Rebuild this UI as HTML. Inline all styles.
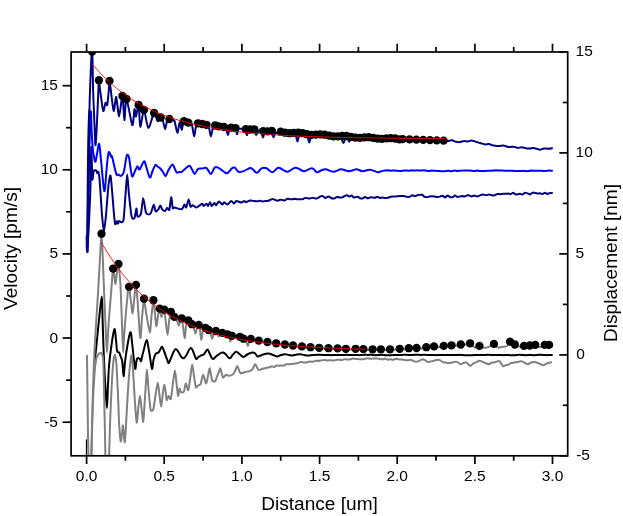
<!DOCTYPE html>
<html><head><meta charset="utf-8"><title>Velocity and displacement vs distance</title>
<style>
html,body{margin:0;padding:0;background:#fff;}
body{width:623px;height:516px;overflow:hidden;font-family:"Liberation Sans",sans-serif;}
svg{display:block;will-change:transform;}
</style></head><body>
<svg width="623" height="516" viewBox="0 0 623 516">
<rect width="623" height="516" fill="#fff"/>
<defs><clipPath id="c"><rect x="71.1" y="52.0" width="496.6" height="403.8"/></clipPath></defs>
<g clip-path="url(#c)" fill="none" stroke-linejoin="round" stroke-linecap="round">
<path d="M94.6 362.0C94.9 359.1 95.8 352.1 96.5 345.0C97.2 337.9 98.1 328.2 99.0 320.0C99.9 311.8 101.2 296.5 101.8 296.5C102.4 296.5 102.3 311.8 102.6 320.0C102.9 328.2 103.1 337.9 103.4 345.0C103.7 352.1 103.8 355.2 104.1 362.0C104.4 368.8 104.8 377.2 105.3 385.0C105.8 392.8 106.4 408.1 106.9 408.1C107.4 408.1 107.6 392.3 108.0 385.0C108.4 377.7 108.5 371.8 109.1 365.0C109.7 358.2 110.6 351.1 111.5 345.0C112.4 338.9 113.6 330.1 114.4 329.2C115.2 328.3 115.5 336.3 116.0 340.0C116.5 343.7 116.6 348.9 117.1 351.0C117.6 353.1 118.6 351.6 119.2 352.5C119.8 353.4 120.0 354.5 120.5 356.0C121.0 357.5 121.7 357.8 122.2 361.2C122.7 364.6 123.1 376.1 123.6 376.2C124.1 376.3 124.3 367.3 125.0 362.0C125.7 356.7 126.6 350.1 127.5 345.0C128.4 339.9 129.6 332.7 130.4 332.2C131.2 331.7 131.5 338.0 132.0 342.0C132.5 346.0 133.0 351.4 133.5 356.0C134.0 360.6 134.7 367.9 135.2 368.9C135.7 369.9 135.9 363.8 136.3 362.0C136.7 360.2 136.8 358.9 137.4 358.3C138.0 357.7 139.0 358.2 139.6 358.7C140.2 359.2 140.6 361.5 141.0 361.2C141.4 360.9 141.5 359.1 142.0 357.0C142.5 354.9 143.2 351.9 144.0 349.0C144.8 346.1 145.8 340.3 146.6 340.1C147.4 339.9 147.9 345.1 148.5 348.0C149.1 350.9 149.4 353.4 150.0 357.0C150.6 360.6 151.4 368.4 152.0 368.9C152.6 369.4 152.9 362.5 153.5 360.0C154.1 357.5 154.8 355.3 155.6 354.0C156.4 352.7 157.7 353.4 158.5 352.5C159.3 351.6 159.9 350.0 160.5 349.0C161.1 348.0 161.5 346.4 162.1 346.7C162.7 347.0 163.1 348.8 164.0 351.0C164.9 353.2 166.4 357.7 167.2 359.8C168.0 361.9 168.1 363.4 168.7 363.1C169.3 362.8 170.2 359.9 171.0 358.0C171.8 356.1 172.7 353.5 173.5 352.0C174.3 350.5 175.1 348.9 175.9 348.9C176.8 348.9 177.6 350.7 178.5 352.0C179.4 353.3 180.1 355.4 181.0 356.5C181.9 357.6 183.0 358.6 183.9 358.3C184.8 358.0 185.6 356.4 186.5 355.0C187.4 353.6 188.2 351.2 189.0 350.0C189.8 348.8 190.5 347.9 191.2 348.1C191.9 348.3 192.4 349.7 193.0 351.0C193.6 352.3 194.2 354.6 194.8 356.0C195.4 357.4 195.7 358.8 196.3 359.0C196.9 359.2 197.7 357.6 198.5 357.0C199.3 356.4 200.3 355.9 201.3 355.4C202.3 354.9 203.2 355.0 204.2 354.0C205.2 353.0 206.4 349.9 207.2 349.6C208.0 349.3 208.4 350.8 209.0 352.0C209.6 353.2 210.3 355.3 211.0 356.5C211.7 357.7 212.2 359.0 213.0 359.0C213.8 359.0 214.8 357.4 216.0 356.5C217.2 355.6 218.8 354.2 220.0 353.5C221.2 352.8 222.1 352.3 223.1 352.5C224.1 352.7 224.9 353.5 226.0 354.5C227.1 355.5 228.5 358.3 229.7 358.3C230.9 358.3 231.9 355.6 233.0 354.5C234.1 353.4 235.0 351.8 236.2 351.8C237.4 351.8 238.8 353.6 240.0 354.5C241.2 355.4 242.1 357.0 243.5 356.9C244.9 356.8 246.5 354.7 248.0 354.0C249.5 353.3 251.0 352.6 252.2 352.5C253.4 352.4 254.0 352.5 255.0 353.2C256.0 353.9 256.4 356.3 257.8 356.5C259.2 356.7 261.2 355.0 263.0 354.5C264.8 354.0 266.7 353.5 268.4 353.6C270.1 353.7 271.5 354.5 273.0 355.0C274.5 355.5 275.7 356.5 277.1 356.5C278.5 356.5 279.7 355.4 281.0 355.0C282.3 354.6 283.5 354.2 284.9 354.2C286.3 354.2 287.7 354.8 289.0 355.0C290.3 355.2 291.3 355.6 292.6 355.5C293.9 355.4 295.2 354.8 296.5 354.6C297.8 354.4 299.1 354.1 300.4 354.2C301.7 354.3 302.7 354.8 304.0 355.0C305.3 355.2 306.6 355.5 308.1 355.5C309.6 355.5 311.4 355.2 313.1 355.1C314.7 355.0 316.4 354.8 318.0 354.8C319.6 354.8 321.1 354.9 322.8 354.9C324.4 355.0 326.1 355.0 327.5 355.0C328.9 355.0 330.0 355.2 331.2 355.2C332.5 355.2 333.7 355.0 335.0 355.0C336.3 354.9 337.5 355.0 338.8 355.0C340.0 355.0 341.2 355.1 342.5 355.0C343.8 355.0 345.0 354.8 346.2 354.8C347.5 354.8 348.8 355.0 350.0 355.0C351.2 355.0 352.4 355.0 353.6 355.0C354.8 355.0 355.9 355.0 357.1 355.1C358.4 355.1 359.5 355.2 360.7 355.1C361.9 355.1 363.1 354.8 364.3 354.8C365.5 354.8 366.6 354.9 367.9 354.9C369.1 354.9 370.2 354.8 371.4 354.8C372.6 354.8 373.8 355.1 375.0 355.2C376.2 355.2 377.4 355.2 378.6 355.1C379.8 355.0 380.9 354.7 382.1 354.8C383.4 354.8 384.5 355.2 385.7 355.2C386.9 355.3 388.1 355.3 389.3 355.2C390.5 355.2 391.6 355.1 392.9 355.1C394.1 355.0 395.2 355.1 396.4 355.1C397.6 355.0 398.8 355.0 400.0 355.0C401.2 355.0 402.4 354.9 403.6 354.8C404.8 354.8 405.9 354.7 407.1 354.8C408.4 354.8 409.5 355.0 410.7 355.0C411.9 355.0 413.1 354.8 414.3 354.8C415.5 354.8 416.6 354.8 417.9 354.8C419.1 354.9 420.2 354.9 421.4 354.9C422.6 354.9 423.8 354.7 425.0 354.8C426.2 354.8 427.4 354.9 428.6 355.0C429.8 355.0 430.9 354.9 432.1 355.0C433.4 355.0 434.5 355.2 435.7 355.2C436.9 355.2 438.1 355.0 439.3 355.0C440.5 355.0 441.6 355.1 442.9 355.1C444.1 355.1 445.2 355.0 446.4 355.0C447.6 355.0 448.8 355.0 450.0 355.0C451.2 355.0 452.4 355.1 453.6 355.1C454.8 355.1 455.9 355.0 457.1 355.0C458.4 354.9 459.5 354.8 460.7 354.9C461.9 354.9 463.1 355.2 464.3 355.2C465.5 355.3 466.6 355.3 467.9 355.2C469.1 355.2 470.2 355.2 471.4 355.2C472.6 355.1 473.8 355.1 475.0 355.1C476.2 355.1 477.4 354.9 478.6 354.9C479.8 354.9 480.9 354.9 482.1 354.9C483.4 354.9 484.5 354.9 485.7 354.9C486.9 354.9 488.1 354.7 489.3 354.8C490.5 354.8 491.6 355.1 492.9 355.1C494.1 355.2 495.2 355.0 496.4 355.0C497.6 354.9 498.8 355.0 500.0 355.0C501.2 355.0 502.5 355.2 503.7 355.2C505.0 355.2 506.2 354.9 507.4 354.9C508.7 355.0 509.9 355.2 511.1 355.2C512.4 355.3 513.6 355.3 514.9 355.2C516.1 355.1 517.3 354.8 518.6 354.8C519.8 354.7 521.0 354.8 522.3 354.9C523.5 354.9 524.7 355.2 526.0 355.2C527.3 355.2 528.5 355.0 529.7 355.0C531.0 355.0 532.2 355.2 533.4 355.2C534.7 355.2 535.9 355.0 537.1 354.9C538.4 354.9 539.6 354.8 540.9 354.8C542.1 354.8 543.3 355.0 544.6 355.1C545.8 355.1 547.0 355.2 548.3 355.1C549.5 355.1 551.4 355.0 552.0 355.0" stroke="#000" stroke-width="2.0"/>
<path d="M86.5 440.0L86.5 457.0" stroke="#000" stroke-width="1.3"/>
<path d="M90.8 470.0C91.0 464.1 91.6 438.6 92.0 425.0C92.4 411.4 93.3 378.0 93.8 365.0C94.3 352.0 95.4 334.8 96.0 325.0C96.6 315.2 97.7 298.7 98.2 290.0C98.7 281.3 99.6 265.3 100.0 258.0C100.4 250.7 101.1 233.7 101.5 233.7C101.9 233.7 102.5 250.7 102.8 258.0C103.1 265.3 103.6 281.3 104.0 290.0C104.4 298.7 105.1 316.9 105.5 325.0C105.9 333.1 106.5 352.5 106.9 352.5C107.3 352.5 107.9 333.1 108.5 325.0C109.1 316.9 110.7 297.3 111.3 290.0C111.9 282.7 112.7 270.3 113.1 268.6C113.5 266.9 114.2 275.0 114.5 277.0C114.8 279.0 115.3 284.5 115.6 283.9C115.9 283.2 116.6 274.6 117.0 272.0C117.4 269.4 118.1 263.2 118.5 264.0C118.9 264.8 119.7 274.6 120.0 278.0C120.3 281.4 120.4 283.2 120.7 290.0C121.0 296.8 121.9 321.9 122.2 330.0C122.5 338.1 122.9 352.5 123.2 352.5C123.5 352.5 123.9 338.1 124.5 330.0C125.1 321.9 127.4 295.6 128.0 290.0C128.6 284.4 128.8 285.8 129.1 286.8C129.4 287.8 130.0 294.6 130.5 298.0C131.0 301.4 132.1 313.6 132.6 313.3C133.1 313.0 134.1 299.7 134.5 296.0C134.9 292.3 135.6 284.5 136.0 285.0C136.4 285.5 136.9 293.1 137.5 300.0C138.1 306.9 139.7 335.7 140.3 338.0C140.9 340.3 141.5 323.0 142.0 318.0C142.5 313.0 143.5 300.2 144.0 299.4C144.5 298.6 145.2 307.7 146.0 312.0C146.8 316.3 149.1 331.7 149.8 332.2C150.5 332.7 151.0 320.1 151.5 316.0C152.0 311.9 152.9 301.2 153.4 300.9C153.9 300.6 154.6 310.7 155.0 314.0C155.4 317.3 155.9 326.0 156.3 326.3C156.7 326.6 157.6 318.3 158.0 316.0C158.4 313.7 159.3 308.8 159.7 308.9C160.1 309.0 161.0 316.5 161.4 316.9C161.8 317.3 162.6 312.9 163.0 312.0C163.4 311.1 163.9 309.0 164.3 310.3C164.7 311.6 165.4 318.8 165.8 322.0C166.2 325.2 167.2 335.1 167.6 335.1C168.0 335.1 168.6 325.0 169.0 322.0C169.4 319.0 170.3 312.8 170.8 312.0C171.3 311.2 172.5 315.4 173.0 316.0C173.5 316.6 173.9 316.6 174.4 317.0C174.9 317.4 175.9 317.9 176.5 319.0C177.1 320.1 178.3 325.6 178.8 325.6C179.3 325.6 180.1 319.9 180.5 319.0C180.9 318.1 181.4 317.6 181.7 318.5C182.0 319.4 182.6 323.5 183.0 326.0C183.4 328.5 184.2 337.9 184.6 338.0C185.0 338.1 185.7 329.2 186.0 327.0C186.3 324.8 186.7 321.8 187.0 321.0C187.3 320.2 187.8 320.4 188.3 320.7C188.8 321.0 190.0 322.5 190.5 323.0C191.0 323.5 191.5 323.9 191.9 324.4C192.3 324.9 193.0 325.8 193.5 327.0C194.0 328.2 195.0 333.7 195.5 333.6C196.0 333.5 197.1 327.1 197.5 326.0C197.9 324.9 198.4 324.7 198.7 325.2C199.0 325.7 199.7 328.1 200.0 330.0C200.3 331.9 200.9 340.1 201.3 340.1C201.7 340.1 202.5 331.6 203.0 330.0C203.5 328.4 204.7 328.0 205.4 328.0C206.1 328.0 207.9 329.6 208.6 330.2C209.3 330.8 210.0 331.9 210.5 333.0C211.0 334.1 211.7 338.8 212.2 338.7C212.7 338.6 213.5 333.5 214.0 332.5C214.5 331.5 215.4 331.2 215.9 331.3C216.4 331.4 217.1 332.3 217.5 333.0C217.9 333.7 218.4 336.4 218.8 336.5C219.2 336.6 220.0 333.9 220.5 333.5C221.0 333.1 221.5 333.1 222.4 333.2C223.3 333.3 226.6 334.2 227.5 334.6C228.4 335.0 228.6 335.6 229.0 336.5C229.4 337.4 230.0 341.6 230.4 341.6C230.8 341.6 230.7 336.8 231.9 336.2C233.1 335.6 238.4 336.8 239.9 337.2C241.4 337.6 242.7 338.6 243.5 339.0C244.3 339.4 245.4 339.6 246.0 340.5C246.6 341.4 247.3 346.0 247.8 346.0C248.3 346.0 249.1 341.4 249.5 340.5C249.9 339.6 250.1 339.2 250.8 339.2C251.5 339.2 254.0 340.2 255.0 340.5C256.0 340.8 257.1 340.9 258.7 341.2C260.3 341.5 265.1 342.2 267.4 342.6C269.7 343.0 273.9 343.7 276.2 344.0C278.5 344.3 282.7 344.9 284.9 345.2C287.1 345.5 290.8 345.9 293.0 346.2C295.2 346.5 299.6 347.0 301.9 347.2C304.2 347.4 308.3 347.8 310.5 348.0C312.7 348.2 316.9 348.5 319.2 348.6C321.5 348.7 326.1 348.9 328.5 349.0C330.9 349.1 335.3 349.1 337.6 349.2C339.9 349.3 343.6 349.5 345.9 349.6C348.2 349.7 353.3 349.6 355.6 349.6C357.9 349.6 361.2 349.8 363.4 349.9C365.6 350.0 370.3 350.1 372.6 350.1C374.9 350.1 378.6 350.1 380.9 350.1C383.2 350.1 387.6 350.2 390.0 350.1C392.4 350.0 397.3 349.7 399.7 349.6C402.1 349.5 406.6 349.1 408.8 349.0C411.0 348.9 414.3 348.9 416.6 348.8C418.9 348.7 424.0 348.2 426.3 348.0C428.6 347.8 431.7 347.4 434.0 347.2C436.3 347.0 441.4 346.8 443.7 346.7C446.0 346.6 449.3 346.3 451.5 346.1C453.7 345.9 458.4 345.5 460.8 345.3C463.2 345.1 468.3 344.0 470.1 344.3C471.9 344.6 473.8 347.2 475.0 347.5C476.2 347.8 478.0 346.9 479.4 346.9C480.8 346.9 484.1 348.0 486.0 347.8C487.9 347.6 492.3 345.0 493.9 345.0C495.5 345.0 496.8 347.3 498.0 347.5C499.2 347.7 501.8 347.0 503.0 346.8C504.2 346.6 506.1 346.5 507.0 346.0C507.9 345.5 509.0 343.1 510.0 343.0C511.0 342.9 513.0 345.0 514.8 345.5C516.6 346.0 522.0 346.8 524.0 346.9C526.0 347.0 528.3 346.6 529.8 346.5C531.3 346.4 533.9 345.8 535.2 345.9C536.5 346.0 538.8 347.0 540.0 347.0C541.2 347.0 543.5 346.0 544.7 345.9C545.9 345.8 548.2 345.8 549.1 345.9C550.0 346.0 551.6 346.4 552.0 346.5" stroke="#808080" stroke-width="2.0"/>
<path d="M87.0 355.8C87.0 358.9 87.2 371.7 87.3 380.0C87.4 388.3 87.7 410.1 87.8 420.0C87.9 429.9 88.2 448.2 88.4 456.0C88.6 463.8 89.2 476.9 89.5 480.0C89.8 483.1 90.5 483.1 90.8 480.0C91.1 476.9 91.4 463.1 91.6 456.0C91.8 448.9 92.0 433.6 92.2 425.0C92.4 416.4 93.1 397.4 93.5 390.0C93.9 382.6 94.6 372.2 95.0 368.0C95.4 363.8 96.0 359.8 96.5 358.0C97.0 356.2 98.0 355.2 98.5 354.5C99.0 353.8 99.8 353.0 100.3 352.9C100.8 352.8 101.6 353.3 102.0 354.0C102.4 354.7 102.8 355.7 103.0 358.0C103.2 360.3 103.5 367.2 103.6 372.0C103.7 376.8 104.0 388.8 104.1 395.0C104.2 401.2 104.5 412.1 104.7 420.0C104.9 427.9 105.2 448.2 105.4 456.0C105.6 463.8 106.2 476.9 106.5 480.0C106.8 483.1 107.7 483.1 108.0 480.0C108.3 476.9 108.8 463.1 109.1 456.0C109.4 448.9 109.7 433.6 110.0 425.0C110.3 416.4 111.1 397.8 111.5 390.0C111.9 382.2 112.6 369.6 113.0 365.0C113.4 360.4 114.4 354.4 114.9 354.4C115.4 354.4 116.1 359.7 116.5 365.0C116.9 370.3 117.6 387.2 118.0 395.0C118.4 402.8 118.8 419.0 119.2 425.0C119.6 431.0 120.3 440.4 120.7 441.4C121.1 442.4 121.7 435.1 122.0 433.0C122.3 430.9 122.7 425.1 122.9 425.4C123.1 425.7 123.7 432.8 123.9 435.0C124.1 437.2 124.5 443.5 124.8 442.2C125.1 440.9 125.6 431.8 126.0 425.0C126.4 418.2 127.5 397.8 128.0 390.0C128.5 382.2 129.5 369.5 130.0 365.0C130.5 360.5 131.2 354.5 131.6 355.1C132.0 355.8 132.6 364.2 133.0 370.0C133.4 375.8 134.3 393.2 134.8 400.0C135.3 406.8 136.2 421.5 136.7 422.5C137.2 423.5 137.9 411.5 138.3 408.0C138.7 404.5 139.5 395.8 139.9 395.8C140.3 395.8 141.1 404.6 141.5 408.0C141.9 411.4 142.8 422.2 143.2 421.8C143.6 421.4 144.2 409.8 144.5 405.0C144.8 400.2 145.5 389.6 145.8 385.0C146.1 380.4 146.6 369.6 146.9 369.6C147.2 369.6 147.9 381.0 148.2 385.0C148.5 389.0 149.2 396.7 149.5 400.0C149.8 403.3 150.3 409.1 150.8 410.3C151.3 411.5 152.8 410.9 153.4 408.9C154.0 406.9 154.9 398.4 155.5 395.0C156.1 391.6 157.3 382.7 157.8 382.7C158.3 382.7 159.1 391.9 159.5 395.0C159.9 398.1 160.7 406.7 161.1 406.7C161.5 406.7 162.3 397.8 162.7 395.0C163.1 392.2 163.9 385.2 164.3 384.9C164.7 384.6 165.5 391.0 165.8 393.0C166.1 395.0 166.3 399.8 166.7 400.2C167.1 400.6 168.1 396.1 168.6 395.9C169.1 395.7 170.2 400.5 170.8 398.8C171.4 397.1 172.5 386.7 173.0 383.0C173.5 379.3 174.4 370.4 174.9 370.4C175.4 370.4 176.1 379.7 176.5 383.0C176.9 386.3 177.7 395.2 178.1 395.9C178.5 396.6 179.1 389.1 179.5 388.6C179.9 388.1 180.4 391.8 181.0 392.2C181.6 392.6 183.3 392.6 183.9 391.5C184.5 390.4 185.2 383.7 185.8 383.5C186.4 383.3 187.7 391.1 188.3 390.1C188.9 389.1 190.0 379.3 190.5 376.0C191.0 372.7 191.7 364.6 192.2 364.6C192.7 364.6 193.5 373.1 194.0 376.0C194.5 378.9 195.3 386.0 195.8 387.2C196.3 388.4 197.4 385.9 198.0 385.5C198.6 385.1 199.9 385.6 200.6 384.2C201.3 382.8 202.4 374.9 203.1 374.8C203.8 374.7 205.4 383.3 206.0 383.5C206.6 383.7 207.5 378.0 208.0 376.0C208.5 374.0 209.2 368.4 209.6 368.3C210.0 368.2 210.7 373.4 211.0 375.0C211.3 376.6 211.7 379.8 212.2 380.6C212.7 381.4 214.5 381.7 215.1 381.3C215.7 380.9 216.2 378.8 216.6 377.7C217.0 376.6 218.0 374.2 218.5 373.0C219.0 371.8 219.8 368.3 220.2 368.3C220.6 368.3 221.3 371.8 221.7 373.0C222.1 374.2 222.5 377.5 223.1 377.7C223.7 377.9 225.2 375.0 226.0 374.8C226.8 374.6 228.1 375.9 229.0 375.8C229.9 375.7 232.5 374.9 233.3 374.1C234.1 373.3 235.0 371.0 235.5 370.0C236.0 369.0 236.7 366.1 237.2 366.1C237.7 366.1 238.6 369.1 239.0 370.0C239.4 370.9 239.8 373.0 240.6 373.3C241.4 373.6 243.9 372.3 245.0 372.0C246.1 371.7 248.4 371.5 249.3 371.2C250.2 370.9 251.6 370.4 252.2 369.7C252.8 369.0 253.6 366.7 254.0 366.0C254.4 365.3 255.0 364.1 255.4 364.3C255.8 364.5 256.6 366.7 257.0 367.5C257.4 368.3 258.1 369.9 258.7 370.1C259.3 370.3 260.7 369.5 261.4 369.2C262.0 369.0 263.3 368.7 264.0 368.5C264.7 368.3 266.0 367.8 266.7 367.7C267.4 367.5 268.7 367.4 269.4 367.2C270.1 367.0 271.2 366.4 271.8 366.3C272.4 366.3 273.6 367.1 274.2 367.0C274.8 366.9 276.0 365.6 276.6 365.5C277.2 365.3 278.4 365.8 279.0 365.8C279.6 365.8 280.8 365.5 281.4 365.4C282.1 365.4 283.3 365.8 283.9 365.6C284.5 365.4 285.7 364.3 286.4 364.1C287.0 363.9 288.1 364.3 288.8 364.3C289.5 364.3 291.1 364.0 291.9 363.9C292.7 363.9 294.1 363.7 294.9 363.6C295.7 363.5 297.3 363.2 298.0 363.0C298.7 362.8 299.9 362.2 300.5 362.1C301.2 362.0 302.4 362.2 303.1 362.3C303.7 362.3 304.9 362.5 305.6 362.5C306.2 362.4 307.5 362.0 308.1 361.9C308.8 361.8 309.9 361.6 310.6 361.6C311.2 361.6 312.4 361.9 313.1 361.8C313.7 361.7 314.9 360.8 315.5 360.7C316.2 360.6 317.3 361.0 318.0 361.0C318.7 361.0 320.3 360.6 321.2 360.4C322.0 360.3 323.5 360.1 324.3 360.1C325.2 360.1 326.7 360.4 327.5 360.4C328.3 360.4 329.8 360.2 330.7 360.2C331.5 360.2 333.0 360.6 333.8 360.6C334.7 360.5 336.3 359.9 337.0 359.8C337.7 359.7 338.8 359.8 339.5 359.8C340.1 359.9 341.3 360.0 341.9 360.0C342.6 359.9 343.8 359.4 344.4 359.3C345.1 359.3 346.2 359.4 346.9 359.4C347.6 359.4 349.0 359.7 349.7 359.6C350.4 359.5 351.7 358.8 352.4 358.6C353.2 358.5 354.5 358.8 355.2 358.8C355.9 358.9 357.3 358.9 358.0 359.0C358.7 359.1 359.8 359.2 360.4 359.2C361.0 359.2 362.2 359.3 362.8 359.2C363.4 359.2 364.6 358.9 365.2 358.8C365.8 358.6 367.0 358.3 367.6 358.3C368.2 358.3 369.4 358.8 370.0 358.8C370.6 358.8 371.9 358.5 372.5 358.5C373.1 358.5 374.4 358.4 375.0 358.4C375.6 358.5 376.9 358.5 377.5 358.6C378.1 358.6 379.4 358.8 380.0 358.9C380.6 359.0 381.9 359.4 382.5 359.4C383.1 359.4 384.4 358.6 385.0 358.6C385.6 358.7 386.9 359.6 387.5 359.7C388.1 359.7 389.3 359.2 390.0 359.2C390.7 359.2 392.2 359.9 392.9 359.8C393.7 359.7 395.1 358.8 395.9 358.7C396.6 358.7 398.0 359.3 398.8 359.4C399.6 359.5 401.1 359.4 401.9 359.5C402.7 359.6 404.1 359.8 404.9 359.9C405.7 360.0 407.3 360.2 408.0 360.2C408.7 360.2 409.9 359.8 410.5 359.8C411.2 359.9 412.4 360.5 413.1 360.7C413.7 360.9 414.9 361.6 415.6 361.7C416.2 361.8 417.3 361.7 418.1 361.4C418.9 361.1 421.1 359.6 422.0 359.4C422.9 359.2 424.1 359.8 424.9 360.1C425.7 360.4 427.0 361.7 427.8 361.9C428.6 362.1 429.9 361.6 430.7 361.5C431.5 361.3 432.8 361.0 433.6 360.8C434.4 360.6 435.8 360.0 436.6 359.9C437.3 359.8 438.6 359.7 439.5 360.0C440.4 360.3 442.5 362.0 443.3 362.3C444.1 362.6 445.2 362.4 445.9 362.5C446.6 362.7 447.8 363.1 448.5 363.1C449.2 363.1 450.4 362.9 451.1 362.7C451.8 362.5 453.2 362.0 454.0 361.9C454.8 361.8 456.0 361.6 456.9 361.9C457.8 362.2 459.9 364.2 460.8 364.3C461.7 364.4 462.9 363.0 463.7 362.8C464.5 362.6 465.8 362.3 466.6 362.7C467.4 363.1 469.2 365.7 470.1 365.8C471.0 365.9 472.4 363.9 473.2 363.5C474.0 363.0 475.5 362.6 476.3 362.3C477.1 362.0 478.4 360.8 479.4 360.8C480.4 360.8 483.1 362.2 484.0 362.5C484.9 362.8 485.9 363.2 486.5 363.5C487.1 363.7 488.4 364.4 489.0 364.3C489.6 364.2 490.9 363.0 491.5 362.7C492.1 362.5 493.3 362.7 494.0 362.5C494.7 362.3 496.1 361.5 496.9 361.4C497.6 361.2 498.9 360.8 499.7 361.4C500.5 362.0 502.3 365.7 503.0 366.2C503.7 366.7 504.8 365.4 505.5 365.2C506.1 365.1 507.3 365.1 507.9 364.9C508.6 364.6 509.7 363.6 510.4 363.3C511.1 363.0 512.5 362.8 513.2 362.7C513.9 362.6 515.2 362.4 516.0 362.3C516.8 362.2 518.2 361.8 519.0 361.7C519.8 361.6 521.2 361.2 522.0 361.4C522.8 361.6 524.1 362.7 524.9 363.0C525.7 363.4 527.0 364.4 527.8 364.3C528.6 364.2 530.3 362.8 531.2 362.5C532.1 362.2 533.6 361.8 534.6 361.9C535.6 362.0 537.9 363.1 539.0 363.5C540.1 363.9 542.2 365.2 543.3 365.2C544.4 365.2 546.5 363.7 547.5 363.3C548.5 362.9 550.5 362.4 551.0 362.3" stroke="#808080" stroke-width="2.0"/>
<path d="M87.4 252.0C87.6 249.1 88.2 237.4 88.6 230.0C89.0 222.6 89.9 202.8 90.2 195.0C90.5 187.2 90.7 176.2 90.8 170.0C90.9 163.8 91.2 147.7 91.3 147.0C91.4 146.3 91.8 160.8 91.9 165.0C92.0 169.2 92.2 178.8 92.4 179.6C92.6 180.4 93.3 172.1 93.8 170.9C94.3 169.7 96.0 170.3 96.4 170.6C96.8 170.9 96.8 172.8 97.1 173.0C97.4 173.2 98.1 171.4 98.4 171.8C98.7 172.2 99.0 174.3 99.2 176.0C99.4 177.7 99.6 179.9 100.0 185.0C100.4 190.1 101.5 209.0 102.0 215.0C102.5 221.0 103.5 231.0 104.0 231.0C104.5 231.0 105.4 221.0 106.0 215.0C106.6 209.0 107.9 190.1 108.5 185.0C109.1 179.9 110.0 174.8 110.5 175.5C111.0 176.2 111.4 183.8 112.0 190.0C112.6 196.2 114.2 219.0 114.9 223.0C115.6 227.0 116.6 220.9 117.0 221.0C117.4 221.1 117.7 223.8 118.0 223.8C118.3 223.8 118.8 221.2 119.2 221.0C119.6 220.8 120.8 222.5 121.4 222.3C122.0 222.1 123.1 222.9 123.6 219.4C124.1 215.9 125.0 200.8 125.5 195.0C126.0 189.2 126.7 174.4 127.2 174.4C127.7 174.4 128.4 189.5 129.0 195.0C129.6 200.5 130.9 213.5 131.6 216.5C132.3 219.5 133.9 219.0 134.5 218.0C135.1 217.0 136.0 208.7 136.4 208.5C136.8 208.3 137.0 215.8 137.6 216.5C138.2 217.2 140.3 216.0 141.0 213.6C141.7 211.2 142.5 198.4 143.2 198.3C143.9 198.2 145.2 210.9 146.1 212.9C147.0 214.9 149.5 214.6 150.5 213.6C151.5 212.6 153.0 205.2 153.7 204.9C154.4 204.6 155.0 210.8 155.6 211.4C156.2 212.0 157.9 210.0 158.5 209.2C159.1 208.4 159.9 205.6 160.4 205.6C160.9 205.6 161.5 208.5 162.1 209.2C162.7 209.9 164.4 211.2 165.1 211.0C165.8 210.8 166.6 208.2 167.2 208.0C167.8 207.8 168.9 211.0 169.4 209.6C169.9 208.2 170.8 197.4 171.2 197.2C171.6 197.0 172.4 206.8 172.8 208.1C173.2 209.4 173.3 207.2 174.5 207.4C175.7 207.6 180.5 209.7 181.8 209.3C183.1 208.9 183.8 204.7 184.4 204.5C185.0 204.3 185.7 208.1 186.2 207.4C186.7 206.7 188.0 199.5 188.6 199.4C189.2 199.3 190.0 205.9 190.5 206.7C191.0 207.5 191.9 205.1 192.7 205.2C193.5 205.3 195.1 207.6 196.3 207.4C197.5 207.2 201.3 204.0 202.2 203.8C203.1 203.6 203.0 206.0 203.6 206.0C204.2 206.0 205.9 203.8 206.5 203.8C207.1 203.8 207.5 206.2 208.0 206.0C208.5 205.8 209.6 202.3 210.1 202.3C210.6 202.3 211.0 205.9 211.6 206.0C212.2 206.1 213.9 203.2 214.5 203.1C215.1 203.0 215.4 205.4 216.0 205.2C216.6 205.0 218.1 201.7 218.9 201.6C219.7 201.5 221.8 204.4 222.5 204.5C223.2 204.6 223.3 202.3 224.0 202.3C224.7 202.3 226.7 204.7 227.6 204.5C228.5 204.3 230.4 201.0 231.2 200.9C232.0 200.8 233.4 203.5 234.1 203.5C234.8 203.5 235.4 201.0 236.3 200.9C237.2 200.8 240.4 202.6 241.4 202.6C242.4 202.6 243.7 200.9 244.3 200.9C244.9 200.9 245.1 202.4 245.8 202.3C246.5 202.2 249.1 200.7 250.0 200.5C250.9 200.3 251.8 200.7 252.5 200.8C253.2 200.9 254.3 201.1 255.0 201.1C255.7 201.2 256.9 201.4 257.5 201.3C258.1 201.3 259.4 200.8 260.0 200.8C260.6 200.8 261.9 201.5 262.5 201.5C263.1 201.5 264.4 200.9 265.0 200.9C265.6 200.8 266.9 201.2 267.5 201.0C268.1 200.9 269.4 200.3 270.0 200.0C270.6 199.7 271.9 199.0 272.5 199.0C273.1 199.0 274.4 199.6 275.0 199.8C275.6 200.1 276.9 200.7 277.5 200.7C278.1 200.7 279.4 199.9 280.0 199.8C280.6 199.7 281.9 199.9 282.5 200.0C283.1 200.0 284.4 200.5 285.0 200.4C285.6 200.2 286.9 198.8 287.5 198.7C288.1 198.5 289.4 199.2 290.0 199.3C290.6 199.4 291.9 199.3 292.5 199.2C293.1 199.1 294.4 198.7 295.0 198.7C295.6 198.8 296.9 199.3 297.5 199.3C298.1 199.4 299.4 199.2 300.0 199.2C300.6 199.2 301.9 199.4 302.5 199.2C303.1 199.0 304.4 198.1 305.0 197.9C305.6 197.8 306.9 198.1 307.5 198.2C308.1 198.3 309.3 198.7 310.0 198.6C310.7 198.5 312.0 197.7 312.7 197.7C313.4 197.7 314.7 198.5 315.4 198.6C316.1 198.6 317.5 198.1 318.2 197.8C318.9 197.5 320.2 196.3 320.9 196.2C321.6 196.0 323.1 196.2 323.6 196.4C324.1 196.6 324.4 198.0 325.0 198.0C325.6 198.0 327.7 196.4 328.5 196.4C329.3 196.4 330.3 197.7 331.0 198.0C331.7 198.3 333.2 198.6 334.0 198.5C334.8 198.3 336.2 197.1 337.0 197.0C337.8 196.9 339.3 197.6 340.0 197.6C340.7 197.6 341.7 197.6 342.3 197.4C342.9 197.2 344.1 196.2 344.7 196.0C345.3 195.7 346.4 195.2 347.0 195.3C347.6 195.4 348.8 196.6 349.4 196.6C350.0 196.6 351.2 195.3 351.7 195.4C352.2 195.5 353.0 197.3 353.5 197.5C354.0 197.7 355.2 197.0 355.9 196.9C356.5 196.8 357.6 196.7 358.2 196.9C358.8 197.1 360.0 198.3 360.6 198.4C361.2 198.6 362.3 198.4 362.9 198.2C363.5 198.0 364.7 197.0 365.3 197.0C365.9 197.0 367.0 198.3 367.6 198.3C368.3 198.4 369.4 197.5 370.0 197.4C370.6 197.3 371.9 197.4 372.5 197.4C373.1 197.5 374.4 197.8 375.0 197.7C375.6 197.6 376.9 196.6 377.5 196.7C378.1 196.7 379.4 198.0 380.0 198.1C380.6 198.2 381.9 197.5 382.5 197.5C383.1 197.5 384.4 198.0 385.0 198.0C385.6 198.1 386.9 198.0 387.5 197.8C388.1 197.7 389.4 197.2 390.0 197.0C390.6 196.8 391.9 196.6 392.5 196.5C393.1 196.5 394.4 196.7 395.0 196.6C395.6 196.6 396.9 196.3 397.5 196.2C398.1 196.1 399.4 196.1 400.0 196.1C400.6 196.1 401.9 195.9 402.5 195.9C403.1 195.9 404.4 196.2 405.0 196.3C405.6 196.4 406.9 196.8 407.5 196.9C408.1 196.9 409.4 196.8 410.0 196.6C410.6 196.4 411.8 195.3 412.5 195.2C413.1 195.2 414.3 196.2 414.9 196.2C415.6 196.2 416.7 195.4 417.4 195.2C418.0 195.0 419.2 194.8 419.8 194.8C420.5 194.7 421.8 194.6 422.3 194.8C422.8 195.0 423.4 196.2 424.0 196.5C424.6 196.8 426.0 197.2 426.7 197.2C427.4 197.2 428.6 196.6 429.3 196.5C430.0 196.4 431.3 196.2 432.0 196.2C432.7 196.2 434.0 196.4 434.7 196.5C435.4 196.6 436.6 197.0 437.3 197.0C438.0 197.0 439.3 196.8 440.0 196.6C440.7 196.4 441.9 195.6 442.5 195.7C443.1 195.8 444.4 197.5 445.0 197.5C445.6 197.5 446.9 195.6 447.5 195.6C448.1 195.5 449.4 196.8 450.0 197.0C450.6 197.2 451.9 197.4 452.5 197.2C453.1 197.0 454.4 195.5 455.0 195.5C455.6 195.5 456.9 196.9 457.5 197.0C458.1 197.1 459.4 196.5 460.0 196.4C460.6 196.3 461.7 196.1 462.3 196.1C462.9 196.2 464.0 196.6 464.6 196.6C465.2 196.5 466.4 195.6 467.0 195.4C467.6 195.3 468.7 195.4 469.3 195.5C469.9 195.6 470.9 196.4 471.6 196.4C472.3 196.4 473.7 195.4 474.4 195.4C475.1 195.5 476.5 196.6 477.2 196.6C477.9 196.6 479.2 195.7 480.0 195.4C480.8 195.1 482.2 194.5 483.0 194.5C483.8 194.5 485.2 195.3 486.0 195.3C486.8 195.3 488.3 194.5 489.0 194.5C489.7 194.5 491.0 195.2 491.8 195.3C492.5 195.4 493.8 195.4 494.5 195.2C495.2 195.1 496.5 194.1 497.2 194.0C498.0 193.8 499.3 194.2 500.0 194.2C500.7 194.2 502.1 193.7 502.8 193.7C503.5 193.6 504.9 193.8 505.6 193.8C506.3 193.8 507.7 193.5 508.4 193.5C509.1 193.5 510.1 194.2 510.7 194.1C511.3 194.0 512.4 192.8 513.0 192.8C513.6 192.8 514.8 194.0 515.4 194.2C516.0 194.4 517.1 194.4 517.7 194.3C518.3 194.3 519.4 193.8 520.0 193.8C520.6 193.8 521.9 194.6 522.6 194.4C523.3 194.3 524.5 192.8 525.2 192.7C525.9 192.6 527.1 193.3 527.8 193.5C528.5 193.7 529.6 194.5 530.2 194.4C530.9 194.2 532.0 192.8 532.7 192.6C533.3 192.4 534.5 192.9 535.1 193.1C535.8 193.2 536.9 193.5 537.6 193.6C538.2 193.6 539.4 193.2 540.0 193.3C540.6 193.4 541.8 194.1 542.4 194.1C543.0 194.0 544.2 192.8 544.8 192.8C545.4 192.8 546.6 193.9 547.2 193.9C547.8 193.9 549.0 193.2 549.6 193.1C550.2 192.9 551.7 192.9 552.0 192.9" stroke="#000080" stroke-width="2.0"/>
<path d="M86.6 236.0C86.7 238.4 86.7 251.9 86.9 250.0C87.1 248.1 87.2 236.9 87.5 225.0C87.8 213.1 88.2 194.4 88.5 180.0C88.8 165.6 89.1 151.6 89.5 140.0C89.9 128.4 90.4 113.2 90.8 111.5C91.2 109.8 91.3 124.0 91.6 130.0C91.9 136.0 92.2 142.2 92.6 146.6C93.0 151.0 93.3 153.4 93.8 156.0C94.3 158.6 94.9 162.0 95.4 161.7C95.9 161.4 96.4 157.0 97.0 154.0C97.6 151.0 98.5 143.0 99.2 144.0C99.9 145.0 100.1 152.0 101.0 160.0C101.9 168.0 103.4 189.5 104.3 191.2C105.2 192.9 105.8 176.6 106.5 170.0C107.2 163.4 107.8 154.7 108.6 152.5C109.4 150.3 110.7 156.3 111.3 157.0C111.9 157.7 111.2 153.9 112.1 156.8C112.9 159.7 115.2 170.8 116.3 173.8C117.4 176.8 117.8 174.1 118.5 174.5C119.2 174.9 119.9 176.2 120.7 176.0C121.5 175.8 122.6 174.7 123.2 173.5C123.8 172.3 123.8 172.0 124.4 169.0C125.0 166.0 126.0 157.6 126.8 155.6C127.6 153.6 128.3 155.2 129.0 157.5C129.7 159.8 130.1 166.1 130.7 169.4C131.3 172.7 131.6 176.4 132.3 176.7C133.0 177.0 134.1 172.7 135.0 171.0C135.9 169.3 136.6 166.8 137.4 166.5C138.2 166.2 138.5 170.3 139.6 169.4C140.7 168.5 142.9 162.0 144.0 161.4C145.1 160.8 145.0 163.3 146.0 166.0C147.0 168.7 148.7 176.6 149.8 177.4C150.9 178.2 151.6 173.1 152.5 171.0C153.4 168.9 154.5 165.9 155.3 165.1C156.2 164.3 156.7 166.0 157.5 166.5C158.3 167.0 159.1 167.3 160.0 168.2C160.9 169.1 162.1 170.6 163.0 172.0C163.9 173.4 164.6 176.5 165.5 176.2C166.4 175.9 167.3 172.0 168.5 170.0C169.7 168.0 171.4 164.8 172.4 164.5C173.4 164.2 173.8 166.6 174.5 168.0C175.2 169.4 175.9 171.8 176.7 172.5C177.5 173.2 178.1 172.1 179.0 172.0C179.9 171.9 180.8 172.3 181.8 171.8C182.8 171.3 183.7 170.0 185.0 169.0C186.3 168.0 188.3 165.6 189.5 165.7C190.7 165.8 191.1 168.1 192.0 169.5C192.9 170.9 193.6 174.1 194.6 174.0C195.6 173.9 196.8 169.8 198.1 168.9C199.4 168.0 200.7 168.7 202.0 168.5C203.3 168.3 204.8 167.4 205.8 167.7C206.8 168.0 207.1 168.9 208.0 170.0C208.9 171.1 209.7 174.4 210.9 174.0C212.1 173.6 213.5 168.4 214.9 167.4C216.3 166.4 217.5 167.6 218.9 168.2C220.3 168.8 221.6 170.1 223.0 171.0C224.4 171.9 225.7 173.8 227.2 173.3C228.7 172.8 230.7 169.2 232.0 168.2C233.3 167.2 233.8 167.1 234.9 167.7C236.0 168.3 237.0 171.2 238.5 171.8C240.0 172.4 241.6 171.7 243.6 171.1C245.6 170.5 248.4 168.3 250.0 168.0C251.6 167.7 251.8 168.7 253.0 169.5C254.2 170.3 255.3 173.0 256.8 172.8C258.3 172.6 260.0 169.1 261.6 168.3C263.2 167.5 264.7 167.6 266.5 168.3C268.3 169.0 270.3 172.3 272.3 172.2C274.3 172.1 276.3 168.1 278.1 167.7C279.9 167.3 281.4 169.1 283.0 169.8C284.6 170.5 285.8 172.2 287.8 171.8C289.8 171.4 292.9 168.1 295.0 167.7C297.1 167.3 298.4 168.9 300.0 169.5C301.6 170.1 302.3 171.4 304.3 171.2C306.3 171.0 309.9 168.1 312.0 168.3C314.1 168.5 315.4 171.8 316.9 172.2C318.4 172.6 319.5 171.0 321.0 170.5C322.5 170.0 323.5 169.1 325.6 169.3C327.7 169.5 330.7 171.8 333.3 171.8C335.9 171.8 338.5 169.4 341.1 169.3C343.7 169.2 346.2 171.2 348.8 171.2C351.4 171.2 354.3 169.3 356.6 169.3C358.9 169.3 360.1 171.1 362.4 171.2C364.7 171.3 367.4 169.6 370.0 169.8C372.6 170.0 375.9 172.0 377.8 172.2C379.7 172.4 380.2 171.5 381.4 171.2C382.6 170.9 383.9 170.7 385.0 170.5C386.1 170.3 387.0 170.3 388.0 170.3C389.0 170.4 390.0 170.7 391.0 170.8C392.0 170.8 393.0 170.4 394.0 170.4C395.0 170.5 396.0 170.8 397.0 170.8C398.0 170.9 399.0 170.9 400.0 170.9C401.0 170.9 401.9 170.8 402.9 170.7C403.8 170.7 404.7 170.5 405.7 170.5C406.7 170.5 407.6 170.8 408.6 170.7C409.5 170.7 410.5 170.4 411.4 170.3C412.4 170.3 413.3 170.6 414.3 170.6C415.3 170.6 416.2 170.3 417.1 170.3C418.1 170.2 419.0 170.5 420.0 170.5C421.0 170.5 421.9 170.3 422.9 170.3C423.8 170.3 424.7 170.5 425.7 170.6C426.7 170.7 427.6 171.0 428.6 170.9C429.5 170.9 430.5 170.6 431.4 170.5C432.4 170.5 433.3 170.6 434.3 170.7C435.3 170.7 436.2 171.0 437.1 171.0C438.1 171.1 439.0 171.0 440.0 171.0C441.0 171.0 441.9 171.3 442.9 171.3C443.8 171.3 444.7 171.0 445.7 171.0C446.7 170.9 447.6 170.8 448.6 170.8C449.5 170.8 450.5 171.2 451.4 171.2C452.4 171.1 453.3 170.5 454.3 170.5C455.3 170.4 456.2 171.0 457.1 171.0C458.1 171.0 459.0 170.8 460.0 170.7C461.0 170.6 461.9 170.6 462.9 170.6C463.8 170.5 464.7 170.5 465.7 170.5C466.7 170.5 467.6 170.5 468.6 170.5C469.5 170.5 470.5 170.6 471.4 170.7C472.4 170.8 473.3 171.1 474.3 171.1C475.3 171.1 476.2 170.7 477.1 170.6C478.1 170.6 479.0 170.9 480.0 170.9C481.0 170.9 481.9 170.9 482.9 170.9C483.8 170.9 484.7 171.0 485.7 170.9C486.7 170.9 487.6 170.7 488.6 170.7C489.5 170.7 490.5 170.8 491.4 170.8C492.4 170.7 493.3 170.5 494.3 170.4C495.3 170.3 496.2 170.3 497.1 170.3C498.1 170.4 499.0 170.6 500.0 170.6C501.0 170.6 501.9 170.4 502.9 170.5C503.8 170.5 504.7 170.8 505.7 170.8C506.7 170.9 507.6 170.7 508.6 170.7C509.5 170.7 510.5 170.7 511.4 170.7C512.4 170.7 513.3 170.9 514.3 170.9C515.3 171.0 516.2 170.9 517.1 170.9C518.1 170.9 519.0 171.0 520.0 171.0C521.0 171.0 521.9 170.8 522.9 170.8C523.8 170.8 524.7 171.1 525.7 171.1C526.7 171.2 527.6 171.1 528.6 171.0C529.5 170.9 530.5 170.7 531.4 170.6C532.4 170.6 533.3 170.8 534.3 170.8C535.3 170.9 536.2 170.8 537.1 170.8C538.1 170.7 539.0 170.7 540.0 170.7C541.0 170.7 542.0 171.0 543.0 171.0C544.0 171.0 545.0 171.0 546.0 170.9C547.0 170.8 548.0 170.6 549.0 170.6C550.0 170.6 551.5 170.8 552.0 170.8" stroke="#0000ff" stroke-width="2.0"/>
<path d="M89.2 110.0C89.1 112.6 88.7 123.5 88.5 130.0C88.3 136.5 88.1 150.9 88.0 160.0C87.9 169.1 87.7 188.0 87.6 200.0C87.5 212.0 87.3 250.1 87.4 252.0C87.5 253.9 88.0 225.7 88.2 215.0C88.4 204.3 88.7 181.1 88.8 170.0C88.9 158.9 89.2 139.1 89.3 130.0C89.4 120.9 89.5 107.8 89.7 100.0C89.9 92.2 90.5 76.6 90.8 70.0C91.1 63.4 91.9 46.4 92.2 49.0C92.5 51.6 92.8 80.1 93.1 90.0C93.4 99.9 94.2 117.8 94.5 125.0C94.8 132.2 95.1 144.5 95.4 145.2C95.7 145.8 96.2 136.9 96.6 130.0C97.0 123.1 98.0 98.5 98.3 92.0C98.6 85.5 98.7 80.5 98.9 80.2C99.1 79.9 99.5 86.0 100.1 90.0C100.7 94.0 102.5 109.2 103.2 110.9C103.9 112.6 105.0 103.6 105.5 102.8C106.0 102.0 106.9 106.4 107.3 104.7C107.7 103.0 108.5 93.1 108.8 90.0C109.1 86.9 109.2 80.9 109.5 80.9C109.8 80.9 110.3 86.1 110.8 90.0C111.3 93.9 113.0 110.0 113.7 110.9C114.4 111.8 115.5 96.3 116.2 97.0C116.9 97.7 118.3 116.5 119.1 116.4C119.9 116.3 121.7 95.5 122.4 96.0C123.1 96.5 123.9 119.6 124.4 120.0C124.9 120.4 125.5 98.3 126.5 99.0C127.5 99.7 131.3 123.9 132.3 125.2C133.3 126.5 134.0 110.3 134.5 109.2C135.0 108.1 135.5 117.0 136.0 116.5C136.5 116.0 138.0 103.7 138.6 105.0C139.2 106.3 139.6 126.0 140.3 126.7C141.0 127.4 143.0 109.8 144.0 110.0C145.0 110.2 147.0 127.7 148.3 128.1C149.6 128.5 152.9 113.9 154.1 113.0C155.3 112.1 156.6 120.4 157.5 121.0C158.4 121.6 160.0 117.8 160.7 117.5C161.3 117.2 161.9 117.5 162.5 119.0C163.1 120.5 164.5 129.1 165.1 129.2C165.7 129.3 166.7 120.8 167.3 119.5C167.9 118.2 168.8 118.9 169.4 119.0C170.0 119.1 171.3 119.7 172.0 120.0C172.7 120.3 173.8 119.3 174.5 121.0C175.2 122.7 176.7 132.6 177.4 132.8C178.1 133.0 179.0 123.0 179.6 122.6C180.2 122.2 181.3 130.0 181.8 129.9C182.3 129.8 182.7 122.9 183.5 122.0C184.3 121.1 187.2 122.5 188.3 122.8C189.4 123.1 190.9 122.2 191.7 124.0C192.5 125.8 193.6 136.4 194.2 136.4C194.8 136.4 195.6 125.5 196.6 124.0C197.6 122.5 200.9 124.3 202.2 124.5C203.5 124.7 205.7 125.0 206.5 125.2C207.3 125.4 208.1 124.5 208.7 126.0C209.3 127.5 210.3 136.4 210.9 136.4C211.5 136.4 212.5 127.3 213.5 126.0C214.5 124.7 217.5 126.5 218.9 126.7C220.3 126.9 223.1 127.2 224.0 127.4C224.9 127.6 225.6 127.0 226.1 128.0C226.6 129.0 227.5 135.0 228.0 135.0C228.5 135.0 228.8 129.0 229.8 128.2C230.8 127.4 234.7 127.8 235.6 128.6C236.5 129.4 236.6 134.1 237.0 134.2C237.4 134.3 237.5 129.6 238.5 129.0C239.5 128.4 243.9 128.7 245.0 129.5C246.1 130.3 246.4 135.0 246.9 135.1C247.4 135.2 247.9 130.6 248.8 130.0C249.7 129.4 253.0 129.8 254.0 130.5C255.0 131.2 255.6 135.0 256.2 135.1C256.8 135.2 257.9 131.5 258.5 131.0C259.1 130.5 260.4 130.7 261.0 131.5C261.6 132.3 262.5 137.4 263.0 137.5C263.5 137.6 264.0 132.7 265.0 132.0C266.0 131.3 269.9 131.8 271.0 132.5C272.1 133.2 273.0 137.1 273.6 137.2C274.2 137.3 273.9 133.4 276.0 133.0C278.1 132.6 287.5 134.2 290.0 134.5C292.5 134.8 294.5 134.4 295.5 135.3C296.5 136.2 297.0 141.5 297.5 141.5C298.0 141.5 298.3 136.3 299.5 135.6C300.7 134.9 305.7 135.3 307.0 136.2C308.3 137.1 308.7 142.6 309.2 142.6C309.7 142.6 310.6 137.3 311.2 136.5C311.8 135.7 313.2 136.1 314.0 136.2C314.7 136.2 316.0 136.8 316.7 136.9C317.4 136.9 318.8 136.6 319.5 136.7C320.2 136.7 321.5 137.2 322.2 137.2C323.0 137.3 324.3 137.2 325.0 137.2C325.7 137.2 327.0 137.6 327.7 137.5C328.4 137.4 329.6 136.8 330.3 136.7C331.0 136.6 332.3 136.5 333.0 136.7C333.7 136.9 335.0 138.1 335.7 138.2C336.4 138.3 337.6 137.3 338.3 137.3C339.0 137.2 340.3 137.0 341.0 137.8C341.7 138.6 342.9 143.1 343.5 143.1C344.1 143.1 345.0 138.6 345.5 138.0C346.0 137.4 347.0 137.7 347.5 138.2C348.0 138.7 348.7 141.7 349.2 141.7C349.7 141.7 350.4 138.8 351.0 138.3C351.6 137.8 353.0 137.8 353.7 137.9C354.4 138.0 355.7 139.2 356.4 139.3C357.1 139.4 358.4 138.5 359.1 138.5C359.8 138.4 361.2 139.1 361.9 139.2C362.6 139.2 363.9 138.6 364.6 138.6C365.3 138.6 366.6 138.9 367.3 139.0C368.0 139.0 369.3 138.9 370.0 138.8C370.7 138.7 371.9 138.2 372.5 138.3C373.1 138.3 374.4 139.0 375.0 139.2C375.6 139.3 376.9 139.6 377.5 139.6C378.1 139.6 379.4 139.1 380.0 139.1C380.6 139.1 381.9 139.5 382.5 139.5C383.1 139.6 384.4 139.6 385.0 139.5C385.6 139.4 386.9 138.5 387.5 138.5C388.1 138.6 389.4 139.6 390.0 139.8C390.6 139.9 391.9 139.6 392.5 139.6C393.1 139.5 394.4 139.2 395.0 139.1C395.6 139.0 396.9 138.7 397.5 138.7C398.1 138.8 399.4 139.4 400.0 139.6C400.6 139.8 401.9 140.3 402.5 140.3C403.1 140.3 404.4 139.7 405.0 139.7C405.6 139.7 406.9 140.0 407.5 140.1C408.1 140.3 409.4 140.5 410.0 140.5C410.6 140.5 411.9 140.2 412.5 140.3C413.1 140.3 414.4 140.7 415.0 140.7C415.6 140.6 416.9 139.8 417.5 139.8C418.1 139.8 419.4 140.6 420.0 140.6C420.6 140.6 421.9 140.0 422.5 140.0C423.1 140.1 424.4 140.8 425.0 140.9C425.6 141.0 426.9 141.0 427.5 140.9C428.1 140.8 429.3 140.5 430.0 140.3C430.7 140.1 432.1 139.8 432.8 139.7C433.5 139.7 434.9 139.8 435.6 139.9C436.3 139.9 437.7 139.9 438.4 140.1C439.1 140.3 440.5 141.4 441.2 141.5C441.9 141.6 443.2 140.8 444.0 140.8C444.8 140.8 446.5 141.3 447.5 141.2C448.5 141.1 450.9 140.2 452.0 140.3C453.1 140.4 455.0 141.6 456.0 141.8C457.0 142.0 459.0 142.2 460.0 142.1C461.0 142.0 463.0 141.1 464.0 141.0C465.0 140.9 467.0 141.6 468.0 141.5C469.0 141.4 470.6 140.6 471.6 140.6C472.6 140.6 474.9 141.5 476.0 141.8C477.1 142.1 479.1 142.8 480.0 143.0C480.9 143.2 481.9 143.4 482.6 143.6C483.3 143.8 484.4 144.5 485.2 144.5C486.0 144.5 488.1 143.9 489.0 144.0C489.9 144.1 491.2 145.0 492.0 145.2C492.8 145.4 494.5 145.7 495.4 145.8C496.3 145.9 497.8 146.0 498.8 146.0C499.8 146.0 502.1 145.6 503.0 145.6C503.9 145.6 504.9 145.8 505.5 146.0C506.1 146.1 507.4 146.9 508.0 147.0C508.6 147.1 509.9 146.9 510.5 146.9C511.1 146.9 512.3 146.8 513.0 146.8C513.7 146.8 514.9 147.0 515.5 147.2C516.2 147.3 517.5 147.9 518.1 147.9C518.8 147.9 519.9 147.5 520.5 147.4C521.2 147.3 522.4 147.3 523.0 147.4C523.6 147.5 524.9 148.0 525.5 148.1C526.1 148.3 527.4 148.6 528.0 148.6C528.6 148.6 529.9 148.5 530.5 148.4C531.1 148.4 532.1 147.9 533.0 148.0C533.9 148.1 536.6 148.7 537.5 148.9C538.4 149.1 539.2 149.9 540.0 149.8C540.8 149.7 543.0 148.5 544.0 148.4C545.0 148.3 547.0 148.8 548.0 148.8C549.0 148.8 551.5 148.4 552.0 148.3" stroke="#000080" stroke-width="2.0"/>
<g fill="#000" stroke="none">
<circle cx="92.2" cy="51.6" r="4.15"/>
<circle cx="98.9" cy="80.2" r="4.15"/>
<circle cx="109.5" cy="80.9" r="4.15"/>
<circle cx="122.4" cy="96.0" r="4.15"/>
<circle cx="126.5" cy="99.0" r="4.15"/>
<circle cx="138.6" cy="105.0" r="4.15"/>
<circle cx="144.0" cy="110.0" r="4.15"/>
<circle cx="154.1" cy="113.0" r="4.15"/>
<circle cx="160.7" cy="117.5" r="4.15"/>
<circle cx="169.4" cy="119.0" r="4.15"/>
<circle cx="184.0" cy="121.2" r="4.15"/>
<circle cx="188.3" cy="122.6" r="4.15"/>
<circle cx="198.0" cy="123.3" r="4.15"/>
<circle cx="202.2" cy="124.0" r="4.15"/>
<circle cx="206.5" cy="124.8" r="4.15"/>
<circle cx="215.2" cy="125.5" r="4.15"/>
<circle cx="218.9" cy="126.3" r="4.15"/>
<circle cx="224.0" cy="127.0" r="4.15"/>
<circle cx="231.2" cy="127.7" r="4.15"/>
<circle cx="235.6" cy="128.1" r="4.15"/>
<circle cx="245.8" cy="129.2" r="4.15"/>
<circle cx="250.0" cy="129.5" r="4.15"/>
<circle cx="254.3" cy="129.3" r="4.15"/>
<circle cx="263.1" cy="131.1" r="4.15"/>
<circle cx="267.5" cy="131.3" r="4.15"/>
<circle cx="271.9" cy="131.0" r="4.15"/>
<circle cx="280.7" cy="131.7" r="4.15"/>
<circle cx="285.1" cy="132.7" r="4.15"/>
<circle cx="289.5" cy="133.2" r="4.15"/>
<circle cx="293.9" cy="132.9" r="4.15"/>
<circle cx="298.3" cy="132.7" r="4.15"/>
<circle cx="302.7" cy="133.2" r="4.15"/>
<circle cx="307.1" cy="134.2" r="4.15"/>
<circle cx="311.5" cy="134.8" r="4.15"/>
<circle cx="315.9" cy="134.6" r="4.15"/>
<circle cx="320.3" cy="134.3" r="4.15"/>
<circle cx="324.7" cy="134.6" r="4.15"/>
<circle cx="329.1" cy="135.6" r="4.15"/>
<circle cx="333.5" cy="136.3" r="4.15"/>
<circle cx="337.9" cy="136.3" r="4.15"/>
<circle cx="342.3" cy="135.9" r="4.15"/>
<circle cx="346.7" cy="136.0" r="4.15"/>
<circle cx="351.1" cy="136.8" r="4.15"/>
<circle cx="355.5" cy="137.6" r="4.15"/>
<circle cx="359.9" cy="137.8" r="4.15"/>
<circle cx="364.3" cy="137.3" r="4.15"/>
<circle cx="368.7" cy="137.2" r="4.15"/>
<circle cx="373.1" cy="137.8" r="4.15"/>
<circle cx="377.5" cy="138.6" r="4.15"/>
<circle cx="381.9" cy="138.9" r="4.15"/>
<circle cx="386.3" cy="138.4" r="4.15"/>
<circle cx="390.7" cy="138.1" r="4.15"/>
<circle cx="395.1" cy="138.5" r="4.15"/>
<circle cx="399.5" cy="139.3" r="4.15"/>
<circle cx="443.6" cy="140.6" r="4.15"/>
<circle cx="436.8" cy="140.4" r="4.15"/>
<circle cx="430.0" cy="140.1" r="4.15"/>
<circle cx="423.2" cy="139.9" r="4.15"/>
<circle cx="416.4" cy="139.6" r="4.15"/>
<circle cx="409.6" cy="139.4" r="4.15"/>
<circle cx="402.8" cy="139.1" r="4.15"/>
<circle cx="101.5" cy="233.7" r="4.15"/>
<circle cx="113.1" cy="268.6" r="4.15"/>
<circle cx="118.5" cy="264.0" r="4.15"/>
<circle cx="129.1" cy="286.8" r="4.15"/>
<circle cx="136.0" cy="284.9" r="4.15"/>
<circle cx="144.0" cy="298.7" r="4.15"/>
<circle cx="153.4" cy="300.2" r="4.15"/>
<circle cx="159.7" cy="308.6" r="4.15"/>
<circle cx="164.3" cy="309.6" r="4.15"/>
<circle cx="170.8" cy="311.8" r="4.15"/>
<circle cx="174.4" cy="316.9" r="4.15"/>
<circle cx="181.7" cy="318.3" r="4.15"/>
<circle cx="188.3" cy="320.5" r="4.15"/>
<circle cx="191.9" cy="324.2" r="4.15"/>
<circle cx="198.7" cy="324.9" r="4.15"/>
<circle cx="205.4" cy="327.8" r="4.15"/>
<circle cx="208.6" cy="330.0" r="4.15"/>
<circle cx="215.9" cy="331.0" r="4.15"/>
<circle cx="222.4" cy="332.9" r="4.15"/>
<circle cx="227.5" cy="334.3" r="4.15"/>
<circle cx="231.9" cy="335.8" r="4.15"/>
<circle cx="239.9" cy="336.8" r="4.15"/>
<circle cx="243.5" cy="338.7" r="4.15"/>
<circle cx="250.8" cy="338.9" r="4.15"/>
<circle cx="258.7" cy="340.6" r="4.15"/>
<circle cx="267.4" cy="342.0" r="4.15"/>
<circle cx="276.2" cy="343.3" r="4.15"/>
<circle cx="284.9" cy="344.5" r="4.15"/>
<circle cx="293.0" cy="345.5" r="4.15"/>
<circle cx="301.9" cy="346.4" r="4.15"/>
<circle cx="310.5" cy="347.2" r="4.15"/>
<circle cx="319.2" cy="347.8" r="4.15"/>
<circle cx="328.5" cy="348.2" r="4.15"/>
<circle cx="337.6" cy="348.4" r="4.15"/>
<circle cx="345.9" cy="348.8" r="4.15"/>
<circle cx="355.6" cy="348.8" r="4.15"/>
<circle cx="363.4" cy="349.1" r="4.15"/>
<circle cx="372.6" cy="349.3" r="4.15"/>
<circle cx="380.9" cy="349.3" r="4.15"/>
<circle cx="390.0" cy="349.3" r="4.15"/>
<circle cx="399.7" cy="348.8" r="4.15"/>
<circle cx="408.8" cy="348.2" r="4.15"/>
<circle cx="416.6" cy="348.0" r="4.15"/>
<circle cx="426.3" cy="347.2" r="4.15"/>
<circle cx="434.0" cy="346.4" r="4.15"/>
<circle cx="443.7" cy="345.9" r="4.15"/>
<circle cx="451.5" cy="345.3" r="4.15"/>
<circle cx="460.8" cy="344.5" r="4.15"/>
<circle cx="470.1" cy="343.3" r="4.15"/>
<circle cx="479.4" cy="345.9" r="4.15"/>
<circle cx="493.9" cy="343.9" r="4.15"/>
<circle cx="510.0" cy="341.6" r="4.15"/>
<circle cx="514.8" cy="344.5" r="4.15"/>
<circle cx="524.0" cy="345.9" r="4.15"/>
<circle cx="529.8" cy="345.5" r="4.15"/>
<circle cx="535.2" cy="344.9" r="4.15"/>
<circle cx="544.7" cy="344.9" r="4.15"/>
<circle cx="549.1" cy="344.9" r="4.15"/>
</g>
<path d="M92.3 64.1C92.9 64.8 95.6 68.0 96.7 69.3C97.9 70.5 100.0 72.8 101.1 74.0C102.3 75.2 104.4 77.3 105.5 78.4C106.7 79.6 108.8 81.5 109.9 82.6C111.1 83.6 113.2 85.5 114.3 86.4C115.5 87.4 117.6 89.1 118.7 90.0C119.9 90.9 122.0 92.5 123.1 93.3C124.3 94.2 126.4 95.7 127.5 96.5C128.7 97.2 130.8 98.6 131.9 99.4C133.1 100.1 135.2 101.4 136.4 102.1C137.5 102.7 139.6 103.9 140.8 104.6C141.9 105.2 144.0 106.3 145.2 106.9C146.3 107.5 148.4 108.5 149.6 109.1C150.7 109.6 152.8 110.6 154.0 111.1C155.1 111.6 157.2 112.5 158.4 113.0C159.5 113.5 161.6 114.3 162.8 114.8C163.9 115.2 166.0 116.0 167.2 116.4C168.3 116.8 170.4 117.6 171.6 118.0C172.7 118.3 174.9 119.0 176.0 119.4C177.1 119.7 179.3 120.4 180.4 120.7C181.6 121.0 183.7 121.6 184.8 121.9C186.0 122.3 188.1 122.8 189.2 123.1C190.4 123.4 192.5 123.9 193.6 124.2C194.8 124.4 196.9 124.9 198.0 125.2C199.2 125.4 201.3 125.9 202.4 126.1C203.6 126.3 205.7 126.8 206.8 127.0C208.0 127.2 210.1 127.6 211.2 127.8C212.4 128.0 214.5 128.3 215.6 128.5C216.8 128.7 218.9 129.1 220.1 129.2C221.2 129.4 223.3 129.7 224.5 129.9C225.6 130.1 227.7 130.3 228.9 130.5C230.0 130.7 232.1 130.9 233.3 131.1C234.4 131.2 236.5 131.5 237.7 131.6C238.8 131.7 240.9 132.0 242.1 132.1C243.2 132.2 245.3 132.4 246.5 132.5C247.6 132.7 249.7 132.9 250.9 133.0C252.0 133.1 254.1 133.3 255.3 133.4C256.4 133.5 258.6 133.6 259.7 133.7C260.8 133.8 263.0 134.0 264.1 134.1C265.3 134.2 267.4 134.3 268.5 134.4C269.7 134.5 271.8 134.6 272.9 134.7C274.1 134.8 276.2 134.9 277.3 135.0C278.5 135.1 280.6 135.2 281.7 135.2C282.9 135.3 285.0 135.4 286.1 135.5C287.3 135.5 289.4 135.7 290.5 135.7C291.7 135.8 293.8 135.9 294.9 135.9C296.1 136.0 298.2 136.1 299.3 136.1C300.5 136.2 302.6 136.3 303.8 136.3C304.9 136.3 307.0 136.4 308.2 136.5C309.3 136.5 311.4 136.6 312.6 136.6C313.7 136.7 315.8 136.7 317.0 136.8C318.1 136.8 320.2 136.9 321.4 136.9C322.5 137.0 324.6 137.0 325.8 137.0C326.9 137.1 329.0 137.1 330.2 137.2C331.3 137.2 333.4 137.2 334.6 137.3C335.7 137.3 337.8 137.4 339.0 137.4C340.1 137.4 342.3 137.4 343.4 137.5C344.5 137.5 346.7 137.5 347.8 137.6C349.0 137.6 351.1 137.6 352.2 137.6C353.4 137.7 355.5 137.7 356.6 137.7C357.8 137.7 359.9 137.8 361.0 137.8C362.2 137.8 364.3 137.8 365.4 137.9C366.6 137.9 368.7 137.9 369.8 137.9C371.0 137.9 373.1 138.0 374.2 138.0C375.4 138.0 377.5 138.0 378.6 138.0C379.8 138.1 381.9 138.1 383.0 138.1C384.2 138.1 386.3 138.1 387.5 138.1C388.6 138.2 390.7 138.2 391.9 138.2C393.0 138.2 395.1 138.2 396.3 138.2C397.4 138.2 399.5 138.3 400.7 138.3C401.8 138.3 403.9 138.3 405.1 138.3C406.2 138.3 408.3 138.3 409.5 138.3C410.6 138.3 412.7 138.4 413.9 138.4C415.0 138.4 417.1 138.4 418.3 138.4C419.4 138.4 421.6 138.4 422.7 138.4C423.8 138.4 426.0 138.4 427.1 138.4C428.2 138.4 430.4 138.5 431.5 138.5C432.7 138.5 434.8 138.5 435.9 138.5C437.1 138.5 439.2 138.5 440.3 138.5C441.5 138.5 444.1 138.5 444.7 138.5" stroke="#ff0000" stroke-width="0.9"/>
<path d="M101.6 242.7C102.0 243.5 104.0 246.9 104.9 248.4C105.7 249.8 107.3 252.3 108.2 253.7C109.0 255.0 110.6 257.5 111.5 258.7C112.3 260.0 113.9 262.3 114.7 263.5C115.6 264.7 117.2 266.9 118.0 268.1C118.9 269.2 120.5 271.3 121.3 272.4C122.2 273.4 123.7 275.4 124.6 276.4C125.5 277.5 127.0 279.3 127.9 280.3C128.7 281.3 130.3 283.0 131.2 284.0C132.0 284.9 133.6 286.6 134.5 287.4C135.3 288.3 136.9 289.9 137.7 290.7C138.6 291.6 140.2 293.1 141.0 293.9C141.9 294.6 143.5 296.1 144.3 296.8C145.2 297.6 146.7 298.9 147.6 299.6C148.5 300.3 150.0 301.6 150.9 302.3C151.7 302.9 153.3 304.2 154.2 304.8C155.0 305.4 156.6 306.6 157.5 307.2C158.3 307.8 159.9 308.9 160.7 309.4C161.6 310.0 163.2 311.0 164.0 311.6C164.9 312.1 166.5 313.1 167.3 313.6C168.2 314.1 169.7 315.1 170.6 315.6C171.4 316.0 173.0 316.9 173.9 317.4C174.7 317.8 176.3 318.7 177.2 319.1C178.0 319.6 179.6 320.3 180.5 320.8C181.3 321.2 182.9 321.9 183.7 322.3C184.6 322.7 186.2 323.4 187.0 323.8C187.9 324.2 189.5 324.8 190.3 325.2C191.2 325.5 192.7 326.2 193.6 326.5C194.4 326.8 196.0 327.4 196.9 327.8C197.7 328.1 199.3 328.7 200.2 329.0C201.0 329.3 202.6 329.8 203.4 330.1C204.3 330.4 205.9 330.9 206.7 331.2C207.6 331.4 209.2 331.9 210.0 332.2C210.9 332.4 212.5 332.9 213.3 333.1C214.2 333.4 215.7 333.8 216.6 334.0C217.4 334.3 219.0 334.7 219.9 334.9C220.7 335.1 222.3 335.5 223.2 335.7C224.0 335.9 225.6 336.3 226.4 336.5C227.3 336.7 228.9 337.1 229.7 337.2C230.6 337.4 232.2 337.8 233.0 337.9C233.9 338.1 235.4 338.4 236.3 338.6C237.2 338.8 238.7 339.1 239.6 339.2C240.4 339.4 242.0 339.7 242.9 339.8C243.7 340.0 245.3 340.2 246.2 340.4C247.0 340.5 248.6 340.8 249.4 340.9C250.3 341.1 251.9 341.3 252.7 341.4C253.6 341.6 255.2 341.8 256.0 341.9C256.9 342.0 258.4 342.2 259.3 342.4C260.2 342.5 261.7 342.7 262.6 342.8C263.4 342.9 265.0 343.1 265.9 343.2C266.7 343.3 268.3 343.5 269.2 343.6C270.0 343.7 271.6 343.9 272.4 344.0C273.3 344.0 274.9 344.2 275.7 344.3C276.6 344.4 278.2 344.5 279.0 344.6C279.9 344.7 281.4 344.9 282.3 344.9C283.2 345.0 284.7 345.2 285.6 345.2C286.4 345.3 288.0 345.4 288.9 345.5C289.7 345.6 291.3 345.7 292.2 345.8C293.0 345.9 294.6 346.0 295.4 346.0C296.3 346.1 297.9 346.2 298.7 346.3C299.6 346.3 301.2 346.4 302.0 346.5C302.9 346.6 304.4 346.7 305.3 346.7C306.1 346.8 307.7 346.9 308.6 346.9C309.4 347.0 311.0 347.1 311.9 347.1C312.7 347.2 314.3 347.3 315.2 347.3C316.0 347.3 317.6 347.4 318.4 347.5C319.3 347.5 320.9 347.6 321.7 347.6C322.6 347.7 324.2 347.8 325.0 347.8C325.9 347.8 327.4 347.9 328.3 347.9C329.1 348.0 330.7 348.0 331.6 348.1C332.4 348.1 334.0 348.2 334.9 348.2C335.7 348.2 337.3 348.3 338.1 348.3C339.0 348.4 340.6 348.4 341.4 348.5C342.3 348.5 343.9 348.5 344.7 348.6C345.6 348.6 347.2 348.7 348.0 348.7C348.9 348.7 350.4 348.8 351.3 348.8C352.1 348.8 353.7 348.9 354.6 348.9C355.4 348.9 357.0 348.9 357.9 349.0C358.7 349.0 360.3 349.0 361.1 349.1C362.0 349.1 364.0 349.1 364.4 349.1" stroke="#ff0000" stroke-width="0.9"/>
</g>
<g stroke="#000" stroke-width="1.7" fill="none" stroke-linecap="butt">
<rect x="71.1" y="52.0" width="496.6" height="403.8"/>
<path d="M86.6 455.8v8.3 M86.6 52.0v-8.3"/>
<path d="M125.4 455.8v5.0 M125.4 52.0v-5.0"/>
<path d="M164.2 455.8v8.3 M164.2 52.0v-8.3"/>
<path d="M203.1 455.8v5.0 M203.1 52.0v-5.0"/>
<path d="M241.9 455.8v8.3 M241.9 52.0v-8.3"/>
<path d="M280.7 455.8v5.0 M280.7 52.0v-5.0"/>
<path d="M319.6 455.8v8.3 M319.6 52.0v-8.3"/>
<path d="M358.4 455.8v5.0 M358.4 52.0v-5.0"/>
<path d="M397.2 455.8v8.3 M397.2 52.0v-8.3"/>
<path d="M436.0 455.8v5.0 M436.0 52.0v-5.0"/>
<path d="M474.9 455.8v8.3 M474.9 52.0v-8.3"/>
<path d="M513.7 455.8v5.0 M513.7 52.0v-5.0"/>
<path d="M552.5 455.8v8.3 M552.5 52.0v-8.3"/>
<path d="M71.1 422.2h-8.5"/>
<path d="M71.1 380.1h-5.0"/>
<path d="M71.1 338.0h-8.5"/>
<path d="M71.1 296.0h-5.0"/>
<path d="M71.1 253.9h-8.5"/>
<path d="M71.1 211.8h-5.0"/>
<path d="M71.1 169.8h-8.5"/>
<path d="M71.1 127.7h-5.0"/>
<path d="M71.1 85.7h-8.5"/>
<path d="M567.8 455.8h-8.5"/>
<path d="M567.8 405.3h-5.0"/>
<path d="M567.8 354.9h-8.5"/>
<path d="M567.8 304.4h-5.0"/>
<path d="M567.8 253.9h-8.5"/>
<path d="M567.8 203.4h-5.0"/>
<path d="M567.8 152.9h-8.5"/>
<path d="M567.8 102.5h-5.0"/>
<path d="M567.8 52.0h-8.5"/>
</g>
<g font-family="'Liberation Sans', sans-serif" fill="#000">
<g font-size="15.5px">
<text x="86.6" y="480.8" text-anchor="middle">0.0</text>
<text x="164.2" y="480.8" text-anchor="middle">0.5</text>
<text x="241.9" y="480.8" text-anchor="middle">1.0</text>
<text x="319.6" y="480.8" text-anchor="middle">1.5</text>
<text x="397.2" y="480.8" text-anchor="middle">2.0</text>
<text x="474.9" y="480.8" text-anchor="middle">2.5</text>
<text x="552.5" y="480.8" text-anchor="middle">3.0</text>
<text x="58" y="426.7" text-anchor="end">-5</text>
<text x="58" y="342.5" text-anchor="end">0</text>
<text x="58" y="258.4" text-anchor="end">5</text>
<text x="58" y="174.3" text-anchor="end">10</text>
<text x="58" y="90.2" text-anchor="end">15</text>
<text x="576.2" y="460.2">-5</text>
<text x="576.2" y="359.2">0</text>
<text x="575.6" y="258.3">5</text>
<text x="575.6" y="157.3">10</text>
<text x="575.6" y="56.4">15</text>
</g>
<g font-size="19.1px">
<text x="319.5" y="510.3" text-anchor="middle">Distance [um]</text>
<text transform="translate(17.0 248.5) rotate(-90)" text-anchor="middle">Velocity [pm/s]</text>
<text transform="translate(616.8 263) rotate(-90)" text-anchor="middle">Displacement [nm]</text>
</g></g>
</svg>
</body></html>
